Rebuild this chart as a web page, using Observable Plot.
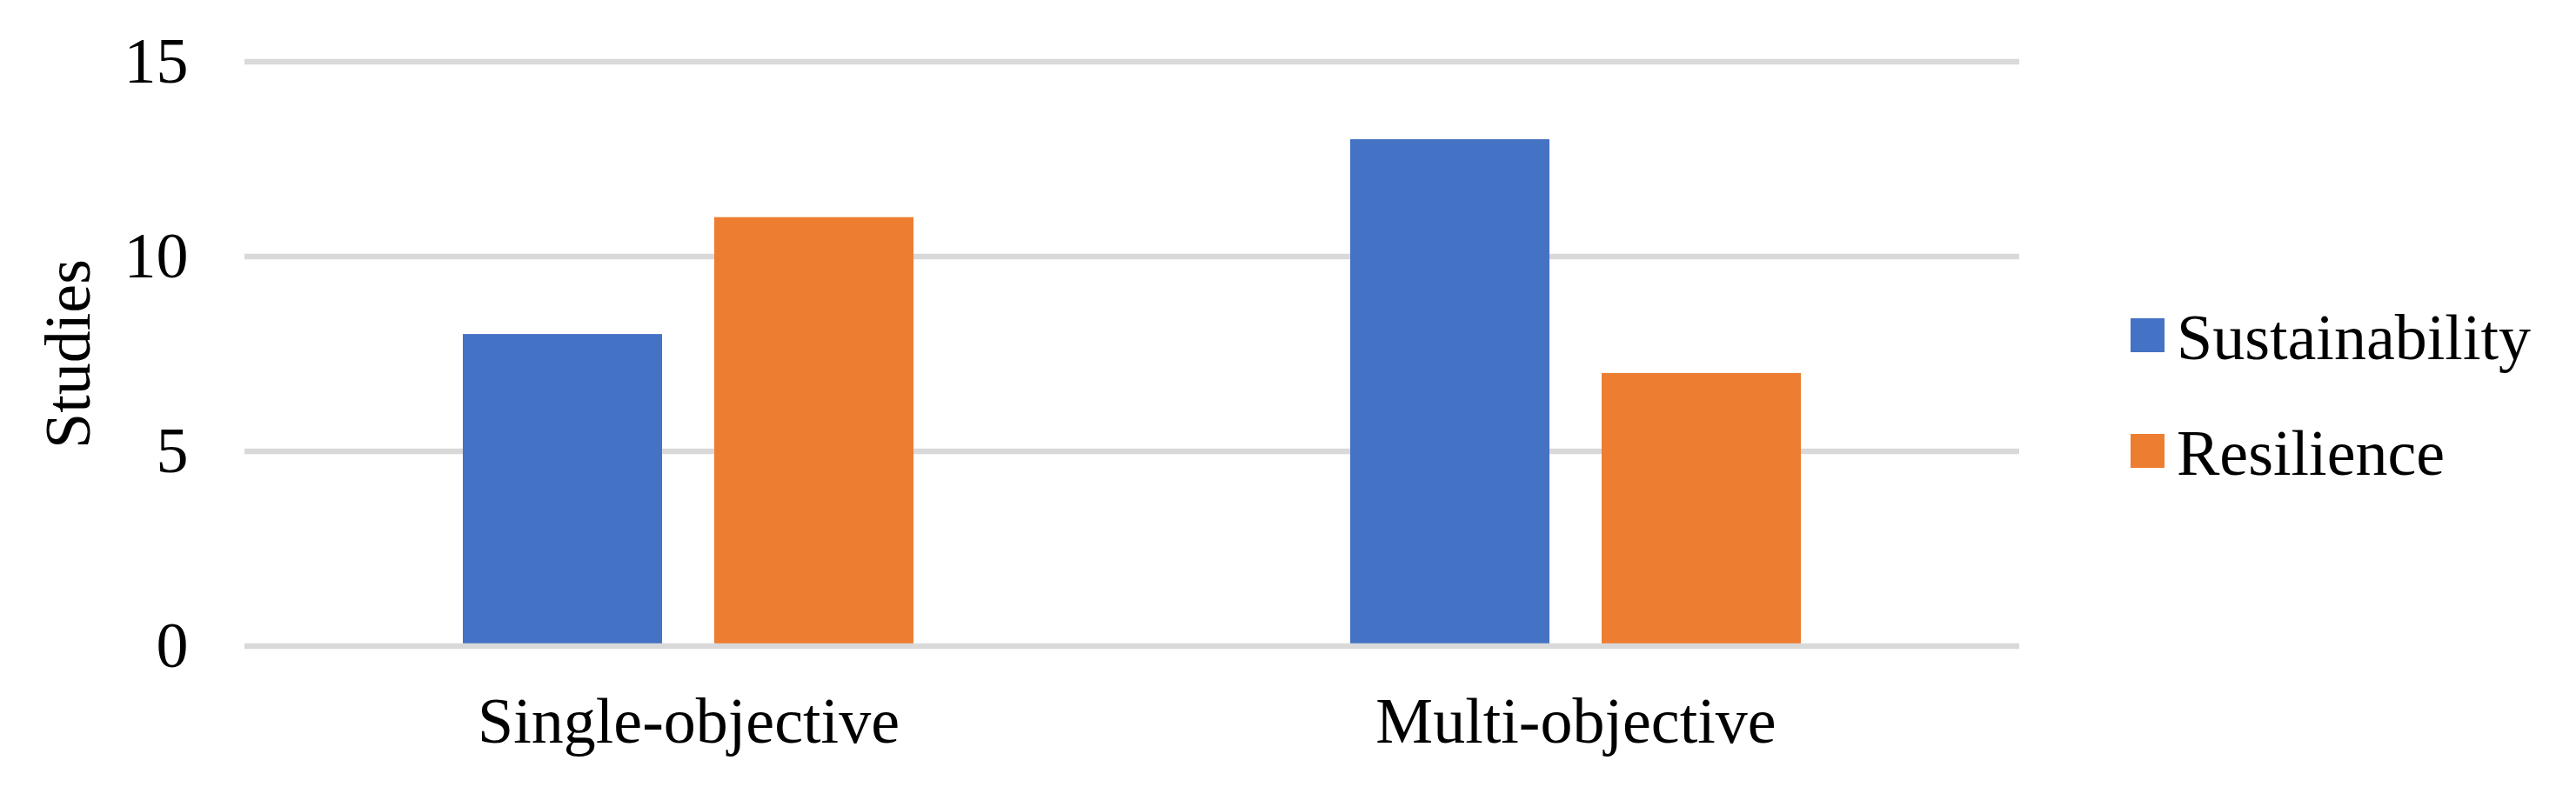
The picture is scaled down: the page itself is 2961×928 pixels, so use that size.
<!DOCTYPE html>
<html>
<head>
<meta charset="utf-8">
<script src="https://cdn.jsdelivr.net/npm/d3@7"></script>
<script src="https://cdn.jsdelivr.net/npm/@observablehq/plot@0.6"></script>
<style>
  html, body { margin: 0; padding: 0; background: #fff; }
  #wrap { position: relative; width: 2961px; height: 928px; font-family: "Liberation Serif", "Times New Roman", serif; }
  #legend { position: absolute; left: 2449px; top: 0; }
  .item { position: absolute; left: 0; white-space: nowrap; }
  .sw { position: absolute; left: 0; width: 39px; height: 39px; }
  .lab { position: absolute; left: 53px; font-size: 74px; line-height: 1; color: #000; }
</style>
</head>
<body>
<div id="wrap"></div>
<script>
// ---- data ----
const categories = ["Single-objective", "Multi-objective"];
const series = ["Sustainability", "Resilience"];
const sustainability = [8, 13];
const resilience = [11, 7];
const yTicks = [0, 5, 10, 15];
const colors = ["#4472C4", "#ED7D31"];
const yLabel = "Studies";

const values = [sustainability, resilience];
const rows = [];
categories.forEach((c, i) => {
  series.forEach((s, j) => rows.push({category: c, series: s, value: values[j][i]}));
});

const chart = Plot.plot({
  width: 2961,
  height: 928,
  marginLeft: 281,
  marginRight: 640,
  marginTop: 70.5,
  marginBottom: 185.5,
  style: {fontFamily: "'Liberation Serif', 'Times New Roman', serif", fontSize: "74px", color: "#000", background: "#fff"},
  fx: {domain: categories, padding: 0, axis: "bottom", tickSize: 0, tickPadding: 58, label: null},
  x: {domain: series, paddingInner: 0.2086, paddingOuter: 0.863, axis: null},
  y: {domain: [0, 15], ticks: yTicks, tickSize: 0, tickPadding: 65, label: yLabel, labelAnchor: "center", labelOffset: 231, labelArrow: "none"},
  color: {domain: series, range: colors},
  marks: [
    Plot.ruleY(yTicks.filter(d => d !== 0), {stroke: "#d9d9d9", strokeWidth: 6.5}),
    Plot.barY(rows, {fx: "category", x: "series", y: "value", fill: "series"}),
    Plot.ruleY([0], {stroke: "#d9d9d9", strokeWidth: 6.5})
  ]
});

const wrap = document.getElementById("wrap");
wrap.appendChild(chart);

// legend
const legend = d3.select(wrap).append("div").attr("id", "legend");
const tops = [366, 499];
series.forEach((s, i) => {
  const it = legend.append("div").attr("class", "item").style("top", tops[i] + "px");
  it.append("div").attr("class", "sw").style("background", colors[i]);
  it.append("div").attr("class", "lab").style("top", "-15px").text(s);
});
</script>
</body>
</html>
